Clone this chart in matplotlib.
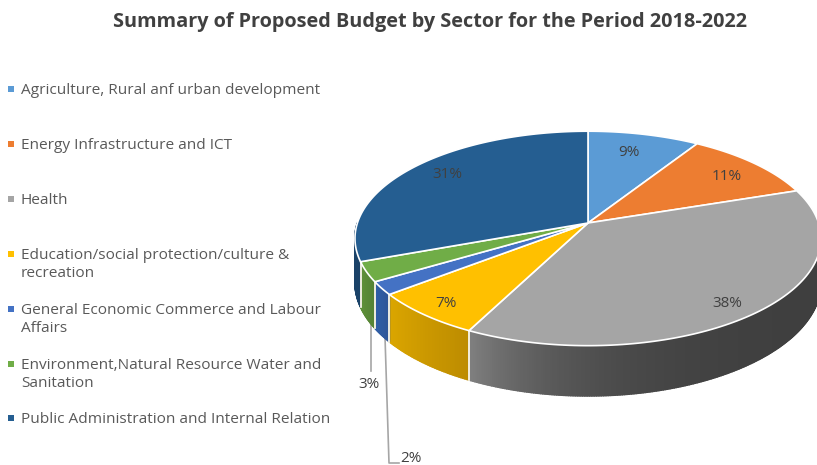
import numpy as np
import matplotlib
matplotlib.use("Agg")
import matplotlib.pyplot as plt
from matplotlib.collections import PolyCollection
from matplotlib.colors import to_rgb

TITLE = "Summary of Proposed Budget by Sector for the Period 2018-2022"
sectors = [
    "Agriculture, Rural anf urban development",
    "Energy Infrastructure and ICT",
    "Health",
    "Education/social protection/culture &\nrecreation",
    "General Economic Commerce and Labour\nAffairs",
    "Environment,Natural Resource Water and\nSanitation",
    "Public Administration and Internal Relation",
]
shares = [9, 11, 38, 7, 2, 3, 31]
top_colors = ["#5b9bd5", "#ed7d31", "#a5a5a5", "#ffc000", "#4472c4", "#70ad47", "#255e91"]
side_start = ["#3d6f9e", "#b05a20", "#3f3f3f", "#bd8c00", "#2f5597", "#548235", "#1a4268"]
side_end = ["#3d6f9e", "#b05a20", "#808080", "#dba600", "#2f5fa8", "#5f9139", "#1a4268"]
side_power = [1, 1, 5, 1, 1, 1, 1]
legend_y = [89, 144, 199, 254, 309, 364, 418]
label_xy = [(629, 152), (727, 176), (727, 303), (446, 303), (411, 458.5), (369, 384), (447, 174)]

# Perspective projection of the disc onto the canvas (pixel units)
CX, CY = 588.0, 223.0
A, B, K = 230.6, 105.0, 0.144
DEPTH = 43.0


def project(deg, r=1.0, drop=0.0):
    th = np.radians(deg)
    u, v = r * np.sin(th), r * np.cos(th)
    w = 1 + K * v
    return CX + A * u / w, CY - B * v / w + drop / w


fig = plt.figure(figsize=(8.17, 4.65), dpi=100, facecolor="white")
ax = fig.add_axes([0, 0, 1, 1])
ax.set_xlim(0, 817)
ax.set_ylim(465, 0)
ax.axis("off")

font = "Open Sans"
edges = np.concatenate([[0], np.cumsum(shares)]) / sum(shares) * 360

# Side wall: narrow overlapping quads with a per-slice shading ramp
for i in range(len(shares)):
    a0, a1 = max(edges[i], 90), min(edges[i + 1], 270)
    if a1 <= a0:
        continue
    n = max(int((a1 - a0) * 2), 2)
    ang = np.linspace(a0, a1, n + 1)
    c0, c1 = np.array(to_rgb(side_start[i])), np.array(to_rgb(side_end[i]))
    quads, cols = [], []
    for p, q in zip(ang[:-1], ang[1:]):
        quads.append([project(p), project(q), project(q, drop=DEPTH), project(p, drop=DEPTH)])
        t = ((0.5 * (p + q) - a0) / (a1 - a0)) ** side_power[i]
        cols.append(c0 + (c1 - c0) * t)
    ax.add_collection(PolyCollection(quads, facecolors=cols, edgecolors=cols, linewidths=1.2, zorder=2))
    for e in (edges[i], edges[i + 1]):
        if 90 < e < 270:
            x, y = project(e)
            xb, yb = project(e, drop=DEPTH)
            ax.plot([x, xb], [y, yb], color="#f4f1e4", lw=1.1, zorder=3)

# Top face of each slice
for i in range(len(shares)):
    ang = np.linspace(edges[i], edges[i + 1], 120)
    xs, ys = project(ang)
    ax.fill(np.r_[CX, xs], np.r_[CY, ys], facecolor=top_colors[i], edgecolor="white",
            lw=1.2, joinstyle="round", zorder=4)

# Leader lines of the two outside labels
ax.plot([371, 371], [320, 371], color="#a6a6a6", lw=1.2, zorder=1)
ax.plot([385, 389, 399], [337, 463, 463], color="#a6a6a6", lw=1.2, zorder=1)

for share, (x, y) in zip(shares, label_xy):
    ax.text(x, y, f"{share}%", ha="center", va="center", fontsize=11,
            color="#404040", family=font, zorder=6)

for name, color, y in zip(sectors, top_colors, legend_y):
    ax.plot([11], [y], marker="s", ms=4.2, color=color, mew=0, zorder=6)
    ax.text(21, y - 6.5, name, ha="left", va="top", fontsize=11.1, color="#595959",
            family=font, linespacing=1.3)

ax.text(430.5, 22.5, TITLE, ha="center", va="center", fontsize=14.35, fontweight="bold",
        color="#404040", family=font)

fig.savefig("out.png", dpi=100, facecolor="white")
